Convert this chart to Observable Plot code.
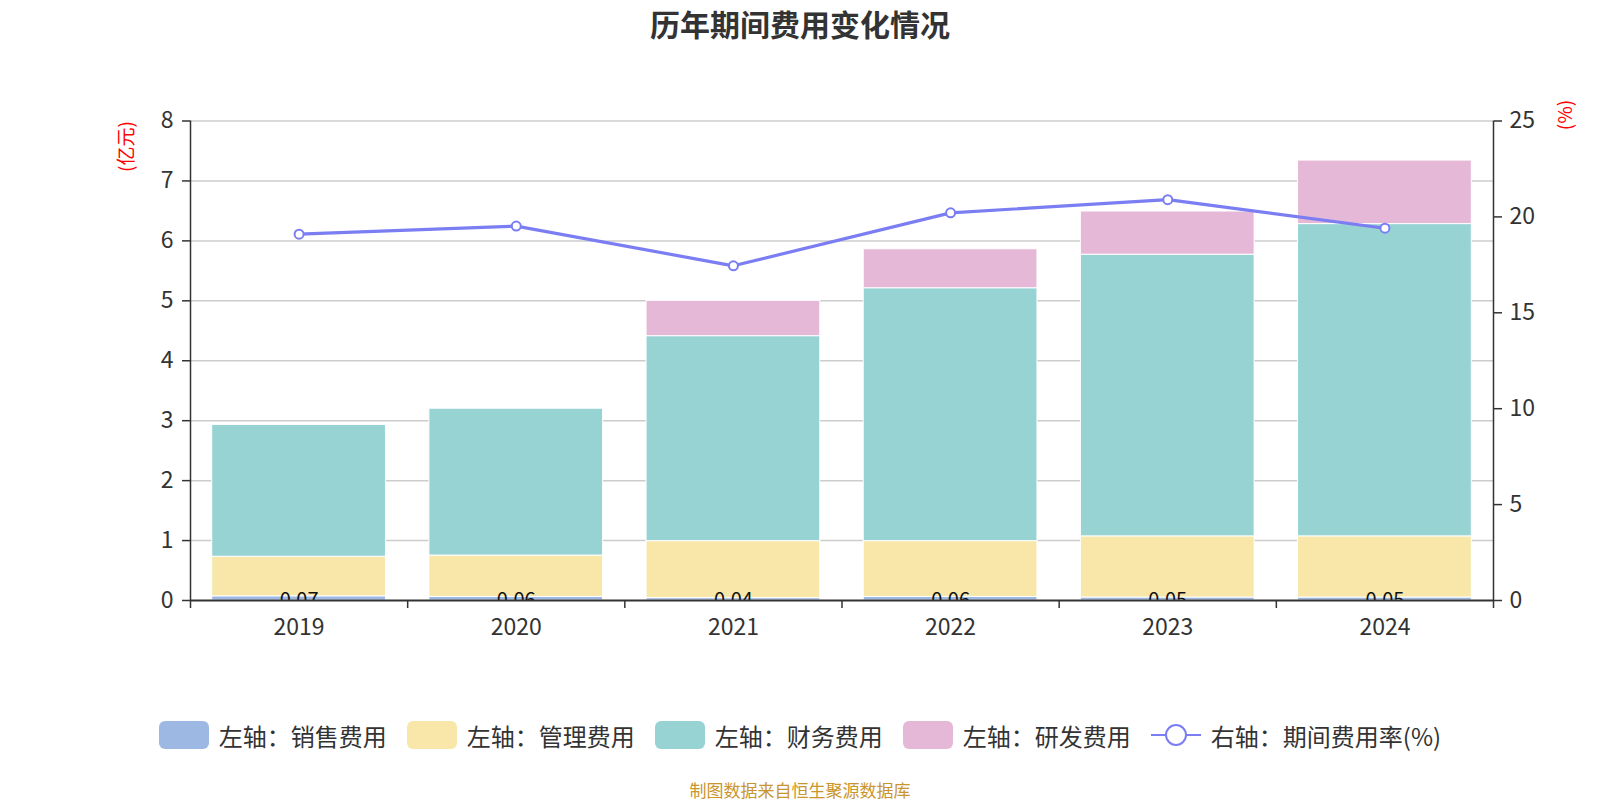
<!DOCTYPE html>
<html>
<head>
<meta charset="utf-8">
<script src="https://cdn.jsdelivr.net/npm/d3@7"></script>
<script src="https://cdn.jsdelivr.net/npm/@observablehq/plot@0.6"></script>
<style>
  html, body { margin: 0; padding: 0; background: #fff; }
  body { width: 1600px; height: 800px; position: relative; overflow: hidden;
         font-family: "Noto Sans CJK SC", "Noto Sans", sans-serif; color: #333; }
  #title { height: 47px; line-height: 47px; text-align: center; font-size: 30px; font-weight: bold; color: #333; }
  #legend { position: absolute; top: 718px; left: 0; width: 1600px; height: 34px; display: flex;
            justify-content: center; align-items: center; gap: 20px; font-size: 24px; color: #333; }
  .item { display: flex; align-items: center; }
  .sw { width: 50px; height: 28px; border-radius: 6px; margin-right: 10px; }
  #footer { position: absolute; top: 777px; left: 0; width: 1600px; text-align: center; font-size: 17px; color: #c9952c; }
</style>
</head>
<body>
<div id="title">历年期间费用变化情况</div>
<div id="chart"></div>
<div id="legend"></div>
<div id="footer">制图数据来自恒生聚源数据库</div>
<script>
const years = ["2019", "2020", "2021", "2022", "2023", "2024"];
const sales = [0.07, 0.06, 0.04, 0.06, 0.05, 0.05];
const mgmt = [0.66, 0.69, 0.95, 0.93, 1.02, 1.02];
const finance = [2.20, 2.45, 3.42, 4.22, 4.70, 5.21];
const rnd = [0, 0, 0.59, 0.65, 0.72, 1.06];
const rate = [19.10, 19.52, 17.45, 20.21, 20.90, 19.41];
const leftTicks = [0, 1, 2, 3, 4, 5, 6, 7, 8];
const rightTicks = [0, 5, 10, 15, 20, 25];

const seriesNames = ["左轴：销售费用", "左轴：管理费用", "左轴：财务费用", "左轴：研发费用"];
const seriesValues = [sales, mgmt, finance, rnd];
const seriesColors = ["#9db8e2", "#f8e7a9", "#98d3d4", "#e6b8d7"];
const lineName = "右轴：期间费用率(%)";
const lineColor = "#7a7ef2";

const leftMax = 8, rightMax = 25;
const toLeft = v => v * leftMax / rightMax;

// stacked table
const rows = [];
years.forEach((yr, i) => {
  let acc = 0;
  seriesValues.forEach((vals, s) => {
    const v = vals[i];
    rows.push({i, year: yr, s, v, y1: acc, y2: acc + v});
    acc += v;
  });
});
const rateRows = years.map((yr, i) => ({i, year: yr, rate: rate[i]}));
const salesRows = rows.filter(d => d.s === 0);

const barMarks = seriesColors.map((c, s) =>
  Plot.rectY(rows.filter(d => d.s === s && d.v > 0), {
    x1: d => d.i + 0.1, x2: d => d.i + 0.9, y1: "y1", y2: "y2",
    fill: c, stroke: "#fff", strokeWidth: 1
  })
);

const chart = Plot.plot({
  width: 1600,
  height: 613,
  marginTop: 73.5,
  marginBottom: 60,
  marginLeft: 190,
  marginRight: 107,
  style: {fontFamily: "'Noto Sans CJK SC', 'Noto Sans', sans-serif", color: "#333", background: "#fff"},
  x: {type: "linear", domain: [0, years.length], axis: null},
  y: {domain: [0, leftMax], axis: null},
  marks: [
    Plot.gridY(leftTicks.slice(1), {stroke: "#cccccc", strokeOpacity: 1, strokeWidth: 1.5}),
    ...barMarks,
    Plot.text(salesRows, {x: d => d.i + 0.5, y: 0, text: d => d.v.toFixed(2), fontSize: 20, fill: "#111", clip: true}),
    Plot.ruleX([0, years.length], {stroke: "#333", strokeWidth: 1.5}),
    Plot.ruleY([0], {stroke: "#333", strokeWidth: 2}),
    Plot.axisY(leftTicks, {anchor: "left", tickSize: 8, tickPadding: 9, fontSize: 23, stroke: "#333", strokeWidth: 1.5, fill: "#333", label: null, tickFormat: d => String(d)}),
    Plot.axisY(rightTicks.map(toLeft), {anchor: "right", tickSize: 8, tickPadding: 8, fontSize: 23, stroke: "#333", strokeWidth: 1.5, fill: "#333", label: null, tickFormat: d => String(Math.round(d * rightMax / leftMax))}),
    Plot.axisX(d3.range(years.length + 1), {anchor: "bottom", tickSize: 8, tickFormat: () => "", stroke: "#333", strokeWidth: 1.5, label: null}),
    Plot.axisX(years.map((y, i) => i + 0.5), {anchor: "bottom", tickSize: 0, tickPadding: 18, fontSize: 23, fill: "#333", label: null, tickFormat: d => years[Math.floor(d)]}),
    Plot.line(rateRows, {x: d => d.i + 0.5, y: d => toLeft(d.rate), stroke: lineColor, strokeWidth: 3.2}),
    Plot.dot(rateRows, {x: d => d.i + 0.5, y: d => toLeft(d.rate), r: 4.5, fill: "#fff", stroke: lineColor, strokeWidth: 2}),
    Plot.text(["(亿元)"], {frameAnchor: "top-left", dx: -64, dy: 25.5, rotate: -90, textAnchor: "middle", lineAnchor: "middle", fontSize: 19, fill: "#ff0000", text: d => d}),
    Plot.text(["(%)"], {frameAnchor: "top-right", dx: 72, dy: -6, rotate: -90, textAnchor: "middle", lineAnchor: "middle", fontSize: 19, fill: "#ff0000", text: d => d})
  ]
});
document.getElementById("chart").appendChild(chart);

// legend
const legend = document.getElementById("legend");
seriesNames.forEach((name, s) => {
  const it = document.createElement("div");
  it.className = "item";
  it.innerHTML = `<div class="sw" style="background:${seriesColors[s]}"></div><span>${name}</span>`;
  legend.appendChild(it);
});
const li = document.createElement("div");
li.className = "item";
li.innerHTML = `<svg width="50" height="28" style="margin-right:10px"><line x1="0" y1="14" x2="50" y2="14" stroke="${lineColor}" stroke-width="2"/><circle cx="25" cy="14" r="10" fill="#fff" stroke="${lineColor}" stroke-width="2"/></svg><span>${lineName}</span>`;
legend.appendChild(li);
</script>
</body>
</html>
